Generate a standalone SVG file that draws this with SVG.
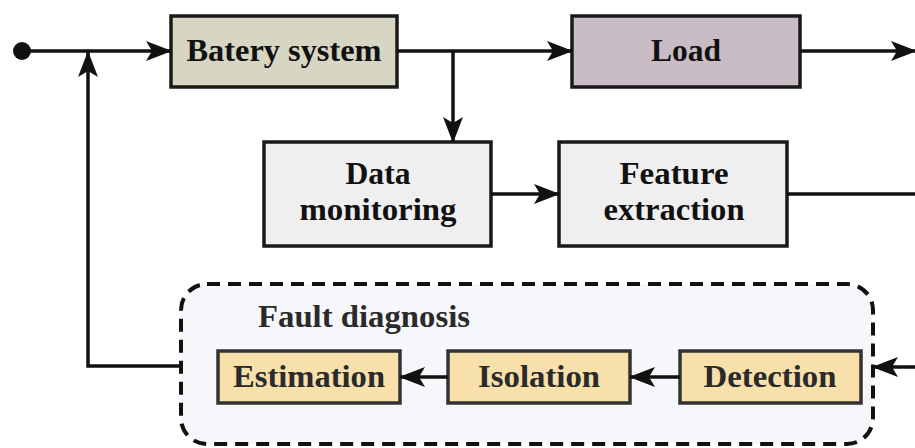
<svg xmlns="http://www.w3.org/2000/svg" width="915" height="448" viewBox="0 0 915 448">
<style>
.box{stroke:#1a1a1a;stroke-width:3.5}
.fbox{fill:#f7e0a9;stroke:#333;stroke-width:3.5}
.t{font-family:'Liberation Serif','Times New Roman',Times,serif;font-weight:700;font-size:32px;fill:#111;text-anchor:middle}
.t2{font-family:'Liberation Serif','Times New Roman',Times,serif;font-weight:700;font-size:32px;fill:#2a2a2a;text-anchor:middle}
.ln{fill:none;stroke:#111;stroke-width:3.5}
</style>
<defs>
<marker id="ah" viewBox="0 0 26 20" refX="25" refY="10" markerWidth="26" markerHeight="20" markerUnits="userSpaceOnUse" orient="auto">
<path d="M0,0 L26,10 L0,20 L6,10 Z" fill="#111"/>
</marker>
</defs>
<rect width="915" height="448" fill="#fff"/>
<g id="fault-diagnosis">
<rect x="181" y="284" width="692" height="160" rx="26" fill="#f5f7fa" stroke="#111" stroke-width="4" stroke-dasharray="13,8"/>
<text class="t2" x="364" y="327" textLength="212" lengthAdjust="spacingAndGlyphs">Fault diagnosis</text>
</g>
<g id="batery">
<rect class="box" x="171" y="16" width="226" height="71" fill="#d6d6c2"/>
<text class="t" x="284" y="61" textLength="195" lengthAdjust="spacingAndGlyphs">Batery system</text>
</g>
<g id="load">
<rect class="box" x="572" y="16" width="228" height="71" fill="#c9bcc4"/>
<text class="t" x="686" y="61" textLength="70" lengthAdjust="spacingAndGlyphs">Load</text>
</g>
<g id="data-monitoring">
<rect class="box" x="264" y="142" width="227" height="104" fill="#f0efef"/>
<text class="t" x="378" y="184" textLength="65" lengthAdjust="spacingAndGlyphs">Data</text>
<text class="t" x="378" y="220" textLength="157" lengthAdjust="spacingAndGlyphs">monitoring</text>
</g>
<g id="feature-extraction">
<rect class="box" x="559" y="142" width="228" height="104" fill="#f0efef"/>
<text class="t" x="674" y="184" textLength="109" lengthAdjust="spacingAndGlyphs">Feature</text>
<text class="t" x="674" y="220" textLength="141" lengthAdjust="spacingAndGlyphs">extraction</text>
</g>
<g id="estimation">
<rect class="fbox" x="218" y="351" width="182" height="52"/>
<text class="t2" x="309" y="387" textLength="152" lengthAdjust="spacingAndGlyphs">Estimation</text>
</g>
<g id="isolation">
<rect class="fbox" x="448" y="351" width="182" height="52"/>
<text class="t2" x="539" y="387" textLength="122" lengthAdjust="spacingAndGlyphs">Isolation</text>
</g>
<g id="detection">
<rect class="fbox" x="680" y="351" width="181" height="52"/>
<text class="t2" x="770" y="387" textLength="133" lengthAdjust="spacingAndGlyphs">Detection</text>
</g>
<g id="connectors">
<circle cx="22" cy="51" r="9" fill="#111"/>
<path class="ln" d="M22,51 H171" marker-end="url(#ah)"/>
<path class="ln" d="M397,51 H572" marker-end="url(#ah)"/>
<path class="ln" d="M800,51 H916" marker-end="url(#ah)"/>
<path class="ln" d="M453,51 V142" marker-end="url(#ah)"/>
<path class="ln" d="M491,194 H559" marker-end="url(#ah)"/>
<path class="ln" d="M787,194 H916"/>
<path class="ln" d="M181,366 H88 V52" marker-end="url(#ah)"/>
<path class="ln" d="M448,377 H400" marker-end="url(#ah)"/>
<path class="ln" d="M680,377 H630" marker-end="url(#ah)"/>
<path class="ln" d="M916,367 H873" marker-end="url(#ah)"/>
</g>
</svg>
